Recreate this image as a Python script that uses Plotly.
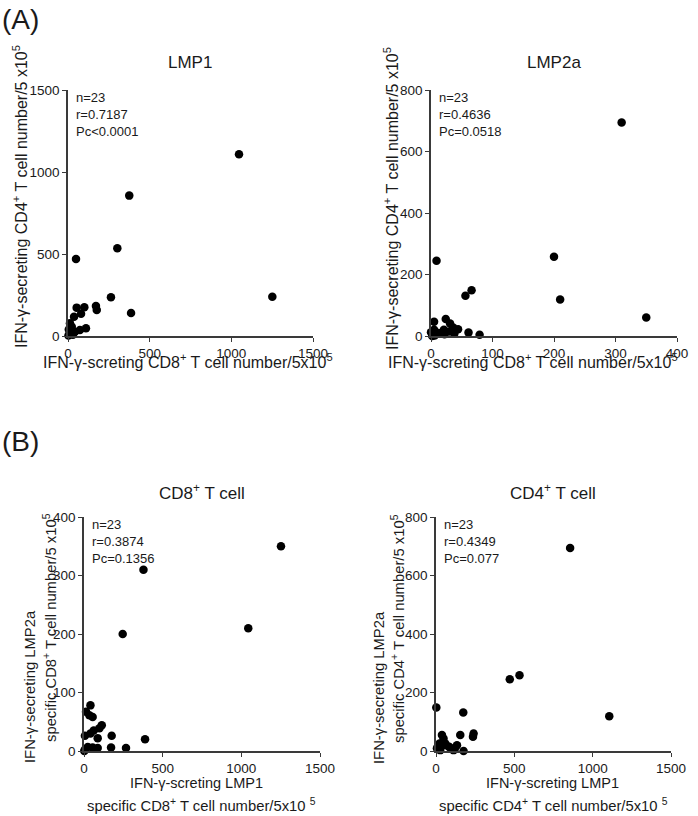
import plotly.graph_objects as go

W, H = 698, 816

# ---------------- data ----------------
# (A) LMP1: x = CD8+ , y = CD4+
lmp1_cd8 = [1047, 1251, 375, 302, 49, 263, 386, 171, 176, 100, 53, 80, 37, 110, 73, 43, 12, 23, 5, 10, 3, 25, 30]
lmp1_cd4 = [1108, 240, 856, 535, 470, 236, 140, 183, 159, 175, 173, 136, 118, 47, 37, 26, 77, 57, 40, 15, 3, 20, 8]
# (A) LMP2a: x = CD8+ , y = CD4+
lmp2a_cd8 = [310, 200, 210, 350, 9, 56, 66, 5, 24, 31, 44, 61, 79, 21, 36, 38, 22, 0, 5, 6, 12, 30, 2]
lmp2a_cd4 = [694, 258, 119, 60, 245, 131, 149, 46, 55, 41, 22, 11, 4, 20, 28, 8, 6, 12, 20, 2, 10, 15, 0]
# (B) CD8+ T cell: x = LMP1, y = LMP2a
cd8_lmp1 = [1252, 378, 1044, 246, 41, 13, 34, 55, 113, 98, 6, 41, 62, 87, 176, 388, 172, 267, 24, 55, 87, 2, 5]
cd8_lmp2a = [350, 310, 210, 200, 78, 67, 61, 58, 44, 39, 26, 30, 35, 22, 26, 20, 6, 5, 7, 6, 5, 0, 2]
# (B) CD4+ T cell: x = LMP1, y = LMP2a
cd4_lmp1 = [856, 533, 471, 1106, 2, 174, 240, 236, 155, 38, 48, 23, 59, 80, 134, 112, 176, 27, 6, 45, 90, 120, 18]
cd4_lmp2a = [694, 259, 245, 119, 149, 132, 60, 49, 55, 55, 43, 26, 26, 15, 20, 3, 0, 3, 9, 20, 12, 8, 18]

stats = ["n=23<br>r=0.7187<br>Pc<0.0001",
         "n=23<br>r=0.4636<br>Pc=0.0518",
         "n=23<br>r=0.3874<br>Pc=0.1356",
         "n=23<br>r=0.4349<br>Pc=0.077"]
titles = ["LMP1", "LMP2a", "CD8<sup>+</sup> T cell", "CD4<sup>+</sup> T cell"]
x_ranges = [[0, 1500], [0, 400], [0, 1500], [0, 1500]]
y_ranges = [[0, 1500], [0, 800], [0, 400], [0, 800]]
x_dticks = [500, 100, 500, 500]
y_dticks = [500, 200, 100, 200]

# ---------------- layout helpers ----------------
def fx(p):
    return p / W

def fy(p):
    return 1 - p / H

# plot areas in pixels: (left, right, top, bottom)
boxes = [(68, 313, 90, 336), (431, 677, 90, 336), (84, 320, 517, 751), (436, 671, 517, 751)]

FONT = "Liberation Sans, Arial, sans-serif"
AX = "#3a3a3a"
TXT = "#1a1a1a"


def label(x, y, text, size=14, angle=0, xanchor="center", yanchor="middle", align="center"):
    return dict(x=fx(x), y=fy(y), xref="paper", yref="paper", showarrow=False,
                xanchor=xanchor, yanchor=yanchor, align=align, textangle=angle,
                text=text, font=dict(size=size, color=TXT, family=FONT))


fig = go.Figure()
series = [(lmp1_cd8, lmp1_cd4), (lmp2a_cd8, lmp2a_cd4), (cd8_lmp1, cd8_lmp2a), (cd4_lmp1, cd4_lmp2a)]
layout = dict(width=W, height=H, autosize=False, margin=dict(l=0, r=0, t=0, b=0, pad=0, autoexpand=False),
              paper_bgcolor="white", plot_bgcolor="white", showlegend=False,
              font=dict(family=FONT, color=TXT, size=13))
annotations = []
for i, ((xs, ys), (l, r, t, b)) in enumerate(zip(series, boxes)):
    n = "" if i == 0 else str(i + 1)
    fig.add_trace(go.Scatter(x=xs, y=ys, mode="markers", xaxis="x" + n, yaxis="y" + n,
                             marker=dict(color="black", size=8.5, line=dict(width=0)),
                             cliponaxis=False, hoverinfo="skip"))
    common = dict(showgrid=False, zeroline=False, showline=True, linecolor=AX, linewidth=1.6,
                  ticks="outside", ticklen=4, tickwidth=1.4, tickcolor=AX, automargin=False,
                  tickfont=dict(size=13.5, color=TXT, family=FONT))
    layout["xaxis" + n] = dict(domain=[fx(l), fx(r)], anchor="y" + n, range=x_ranges[i],
                               tick0=0, dtick=x_dticks[i], **common)
    layout["yaxis" + n] = dict(domain=[fy(b), fy(t)], anchor="x" + n, range=y_ranges[i],
                               tick0=0, dtick=y_dticks[i], **common)
    annotations.append(label(l + 6, t - 2, stats[i], size=13, xanchor="left", yanchor="top", align="left"))

# panel titles
title_pos = [(190, 63), (554, 63), (202, 492), (553, 492)]
for (x, y), t in zip(title_pos, titles):
    annotations.append(label(x, y, t, size=17))

# panel letters
annotations.append(label(0, 19, "(A)", size=28, xanchor="left"))
annotations.append(label(0, 441, "(B)", size=28, xanchor="left"))

# x-axis titles
xlab_A = "IFN-γ-screting CD8<sup>+</sup> T cell number/5x10<sup>5</sup>"
annotations.append(label(188, 361, xlab_A, size=16))
annotations.append(label(533, 361, xlab_A, size=16))
annotations.append(label(196, 783, "IFN-γ-screting LMP1", size=14.5))
annotations.append(label(552, 783, "IFN-γ-screting LMP1", size=14.5))
annotations.append(label(201, 805, "specific CD8<sup>+</sup> T cell number/5x10 <sup>5</sup>", size=14.8))
annotations.append(label(553, 805, "specific CD4<sup>+</sup> T cell number/5x10 <sup>5</sup>", size=14.8))

# y-axis titles (rotated)
ylab_A = "IFN-γ-secreting CD4<sup>+</sup> T cell number/5 x10<sup>5</sup>"
annotations.append(label(20, 197, ylab_A, size=16, angle=-90))
annotations.append(label(391, 199, ylab_A, size=16, angle=-90))
annotations.append(label(30, 687, "IFN-γ-secreting LMP2a", size=14.8, angle=-90))
annotations.append(label(379, 688, "IFN-γ-secreting LMP2a", size=14.8, angle=-90))
annotations.append(label(50, 628, "specific CD8<sup>+</sup> T cell number/5 x10<sup>5</sup>", size=14.8, angle=-90))
annotations.append(label(398, 629, "specific CD4<sup>+</sup> T cell number/5 x10<sup>5</sup>", size=14.8, angle=-90))

layout["annotations"] = annotations
fig.update_layout(**layout)
fig.write_html("out.html", config={"displayModeBar": False},
               post_script="document.body.style.margin='0';document.body.style.overflow='hidden';")
